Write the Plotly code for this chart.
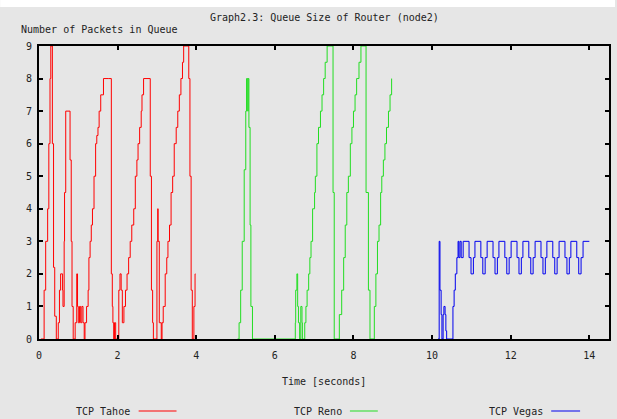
import plotly.graph_objects as go

# ---------------- data ----------------
tahoe_t = [0.05, 0.13, 0.17, 0.22, 0.25, 0.28, 0.30, 0.34, 0.37, 0.40, 0.44,
           0.49, 0.52, 0.55, 0.60, 0.61, 0.64, 0.65, 0.68, 0.79, 0.82, 0.84, 0.87,
           0.92, 0.96, 0.98, 1.00, 1.03, 1.06, 1.09, 1.12, 1.15, 1.17,
           1.21, 1.25, 1.27, 1.30, 1.33, 1.36, 1.40, 1.44, 1.47, 1.50, 1.53, 1.57, 1.64,
           1.76, 1.84, 1.865, 1.88, 1.90, 1.92, 1.95,
           2.03, 2.06, 2.09, 2.12, 2.16, 2.20, 2.24, 2.28, 2.32, 2.36, 2.41, 2.45,
           2.49, 2.52, 2.56, 2.60, 2.62, 2.66, 2.83, 2.86, 2.89, 2.91,
           3.00, 3.02, 3.03, 3.06, 3.11, 3.13, 3.16, 3.21, 3.25, 3.28, 3.32, 3.36,
           3.40, 3.44, 3.49, 3.53, 3.57, 3.61, 3.65, 3.68, 3.81, 3.84, 3.87, 3.90,
           3.94, 3.97, 3.98]
tahoe_q = [0, 1.5, 3, 4, 6, 8, 9, 6, 2.2, 0.7, 0,
           0.5, 1.5, 2, 1.5, 1, 3, 4.5, 7, 5.5, 3, 1, 0,
           0.5, 2, 1, 0.5, 1, 0.5, 1, 0.5, 0, 0.5,
           1, 1.5, 2.5, 3, 3.5, 4, 5, 6, 6.25, 6.5, 7, 7.5, 8,
           8, 2, 1, 0.5, 0, 0.5, 0,
           1.5, 2, 1.5, 0.5, 1, 1.5, 2, 2.5, 3, 3.5, 4, 5,
           5.5, 6, 6.5, 7, 7.5, 8, 5, 1.5, 0.5, 0,
           3, 4, 3, 0.5, 0, 0.5, 1, 2, 2.5, 3, 3.5, 4.5,
           5, 6, 6.5, 7, 7.5, 8, 8.5, 9, 8, 5, 1.5, 0,
           1, 2, 2]

reno_t = [5.05, 5.09, 5.13, 5.17, 5.22, 5.26, 5.28, 5.31, 5.32, 5.34, 5.37, 5.39, 5.43,
          6.52, 6.53, 6.56, 6.58, 6.60, 6.63, 6.66, 6.69, 6.70, 6.76, 6.79,
          6.82, 6.86, 6.89, 6.92, 6.96, 7.01, 7.03, 7.07, 7.11, 7.16, 7.20, 7.24,
          7.28, 7.33, 7.48, 7.51, 7.64, 7.70, 7.75, 7.79, 7.83, 7.87, 7.92, 7.96,
          8.00, 8.04, 8.08, 8.14, 8.19, 8.32, 8.38, 8.42, 8.53, 8.57, 8.61, 8.65,
          8.69, 8.72, 8.76, 8.80, 8.84, 8.89, 8.93, 8.97]
reno_q = [0, 0.5, 1.5, 3, 5.2, 7, 8, 7, 8, 6.5, 3.5, 1, 0,
          0.5, 1.5, 2, 1, 0.5, 0, 1, 0.5, 0, 0.5, 1,
          1.5, 2, 2.5, 3, 4, 4.5, 5, 6, 6.5, 7, 7.5, 8,
          8.5, 9, 4.5, 0, 0.75, 1.5, 2.5, 3.5, 4.5, 5, 6, 6.5,
          7, 7.5, 8, 8.5, 9, 4.5, 1.5, 0, 1, 2, 3, 3.5,
          4.5, 5, 5.5, 6, 6.5, 7, 7.5, 8]

vegas_t = [10.15, 10.18, 10.20, 10.23, 10.25, 10.28, 10.30, 10.33, 10.35, 10.37,
           10.53, 10.56, 10.59, 10.63, 10.66, 10.68, 10.71, 10.74,
           10.79, 10.94, 10.99, 11.05,
           11.09, 11.24, 11.29, 11.35,
           11.40, 11.55, 11.60, 11.66,
           11.70, 11.85, 11.90, 11.96,
           12.01, 12.16, 12.21, 12.27,
           12.31, 12.46, 12.51, 12.57,
           12.62, 12.77, 12.82, 12.88,
           12.92, 13.07, 13.12, 13.18,
           13.23, 13.38, 13.43, 13.49,
           13.53, 13.68, 13.73, 13.79,
           13.84, 14.00]
vegas_q = [0, 3, 1.5, 0.75, 0, 0.75, 1, 0.75, 0.25, 0,
           1, 1.5, 2, 2.5, 3, 2.5, 3, 2.5,
           3, 2.5, 2, 2.5,
           3, 2.5, 2, 2.5,
           3, 2.5, 2, 2.5,
           3, 2.5, 2, 2.5,
           3, 2.5, 2, 2.5,
           3, 2.5, 2, 2.5,
           3, 2.5, 2, 2.5,
           3, 2.5, 2, 2.5,
           3, 2.5, 2, 2.5,
           3, 2.5, 2, 2.5,
           3, 3]

series_names = ["TCP Tahoe", "TCP Reno", "TCP Vegas"]
series_colors = ["#ff0000", "#22dd22", "#0000ee"]

x_ticks = [0, 2, 4, 6, 8, 10, 12, 14]
y_ticks = [0, 1, 2, 3, 4, 5, 6, 7, 8, 9]

title_text = "Graph2.3: Queue Size of Router (node2)"
y_title = "Number of Packets in Queue"
x_title = "Time [seconds]"

# ---------------- figure ----------------
FONT = "DejaVu Sans Mono"
BG = "#e6e6e6"
W, H = 617, 419
ML, MR, MT, MB = 39, 6, 46, 80
PW, PH = W - ML - MR, H - MT - MB


def px(xp):
    return (xp - ML) / PW


def py(yp):
    return (H - MB - yp) / PH


fig = go.Figure()
for t, q, name, col in zip([tahoe_t, reno_t, vegas_t], [tahoe_q, reno_q, vegas_q],
                           series_names, series_colors):
    fig.add_trace(go.Scatter(x=t, y=q, mode="lines", name=name,
                             line=dict(color=col, width=1, shape="hv"),
                             showlegend=False))

axis_common = dict(showline=True, linecolor="black", linewidth=2, mirror="ticks",
                   ticks="inside", ticklen=4, tickwidth=2, tickcolor="black",
                   showgrid=False, zeroline=False,
                   tickfont=dict(family=FONT, size=10, color="#222222"))

fig.update_layout(
    width=W, height=H,
    margin=dict(l=ML, r=MR, t=MT, b=MB, pad=0),
    paper_bgcolor=BG, plot_bgcolor=BG,
    xaxis=dict(range=[0, 14.5], tickvals=x_ticks, ticktext=[str(v) for v in x_ticks],
               ticklabelstandoff=6, **axis_common),
    yaxis=dict(range=[0, 9], tickvals=y_ticks, ticktext=[str(v) for v in y_ticks],
               ticklabelstandoff=3, **axis_common),
    showlegend=False,
)

ann = [
    dict(text=title_text, x=px(326), y=py(17), xanchor="center", yanchor="middle"),
    dict(text=y_title, x=px(19), y=py(29), xanchor="left", yanchor="middle"),
    dict(text=x_title, x=px(325), y=py(381), xanchor="center", yanchor="middle"),
]
legend_text_right = [132, 345, 547]
legend_line = [(139, 177), (351, 379), (553, 582)]
legend_y = 411
for name, xr, (l0, l1), col in zip(series_names, legend_text_right, legend_line, series_colors):
    ann.append(dict(text=name, x=px(xr), y=py(legend_y), xanchor="right", yanchor="middle"))
    fig.add_shape(type="line", xref="paper", yref="paper", x0=px(l0), x1=px(l1),
                  y0=py(legend_y), y1=py(legend_y), line=dict(color=col, width=1))
for a in ann:
    a.update(xref="paper", yref="paper", showarrow=False,
             font=dict(family=FONT, size=10, color="#222222"))
fig.update_layout(annotations=ann)

# white strip at the very top of the picture
fig.add_shape(type="rect", xref="paper", yref="paper", x0=px(0), x1=px(W),
              y0=py(7), y1=py(-2), fillcolor="white", line=dict(width=0), layer="above")

fig.write_html("out.html")
